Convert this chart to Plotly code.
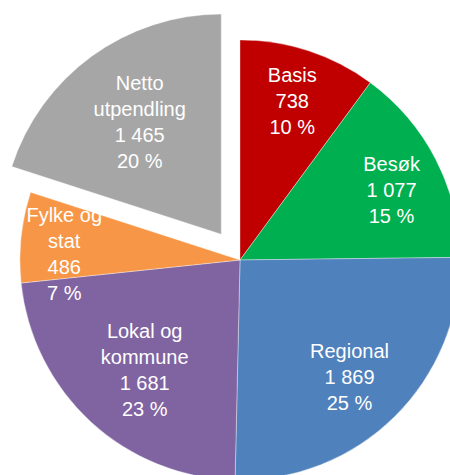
import plotly.graph_objects as go

# Data listed starting with the pulled-out slice so later slices' labels draw on top of it
categories = ["Netto utpendling", "Basis", "Besøk", "Regional", "Lokal og kommune", "Fylke og stat"]
display_labels = ["Netto<br>utpendling", "Basis", "Besøk", "Regional", "Lokal og<br>kommune", "Fylke og<br>stat"]
values = [1465, 738, 1077, 1869, 1681, 486]
percent_labels = [20, 10, 15, 25, 23, 7]
colors = ["#A6A6A6", "#C00000", "#00B050", "#4F81BD", "#8064A2", "#F79646"]
pulls = [0.145, 0, 0, 0, 0, 0]

# label nudging (styling only): non-breaking-space padding left/right and blank lines on top
pad_left = [0, 0, 6, 7, 0, 2]
pad_right = [0, 0, 0, 0, 2, 0]
pad_top = [0, 0, 0, 2, 1, 1]

NB = "\u00a0"
total = sum(values)


def make_text(lab, v, p, pl, pr, pt):
    lines = lab.split("<br>") + [f"{v:,}".replace(",", " "), f"{p} %"]
    lines = [NB * pl + ln + NB * pr for ln in lines]
    return "<br>".join([NB] * pt + lines)


texts = [
    make_text(*args)
    for args in zip(display_labels, values, percent_labels, pad_left, pad_right, pad_top)
]
# first slice (Netto utpendling) starts where the others end, so Basis starts at 12 o'clock
start_angle = 360 * (1 - values[0] / total)

fig = go.Figure(
    go.Pie(
        labels=categories,
        values=values,
        text=texts,
        textinfo="text",
        textposition="inside",
        insidetextorientation="horizontal",
        sort=False,
        direction="clockwise",
        rotation=start_angle,
        pull=pulls,
        marker=dict(colors=colors, line=dict(color="rgba(255,255,255,0.6)", width=0.6)),
        textfont=dict(family="Liberation Sans, Arial, sans-serif", size=20, color="white"),
        domain=dict(x=[0, 1], y=[0, 1]),
        hoverinfo="label+value+percent",
    )
)

fig.update_layout(
    width=504,
    height=520,
    margin=dict(l=0, r=0, t=4, b=4),
    paper_bgcolor="white",
    plot_bgcolor="white",
    showlegend=False,
    uniformtext=dict(minsize=20, mode="show"),
)

fig.write_html(
    "out.html",
    config={"displayModeBar": False},
    post_script=(
        "document.documentElement.style.overflow='hidden';"
        "document.body.style.overflow='hidden';"
        "document.body.style.margin='0';"
        "document.getElementById('{plot_id}').style.marginLeft='-12px';"
    ),
)
